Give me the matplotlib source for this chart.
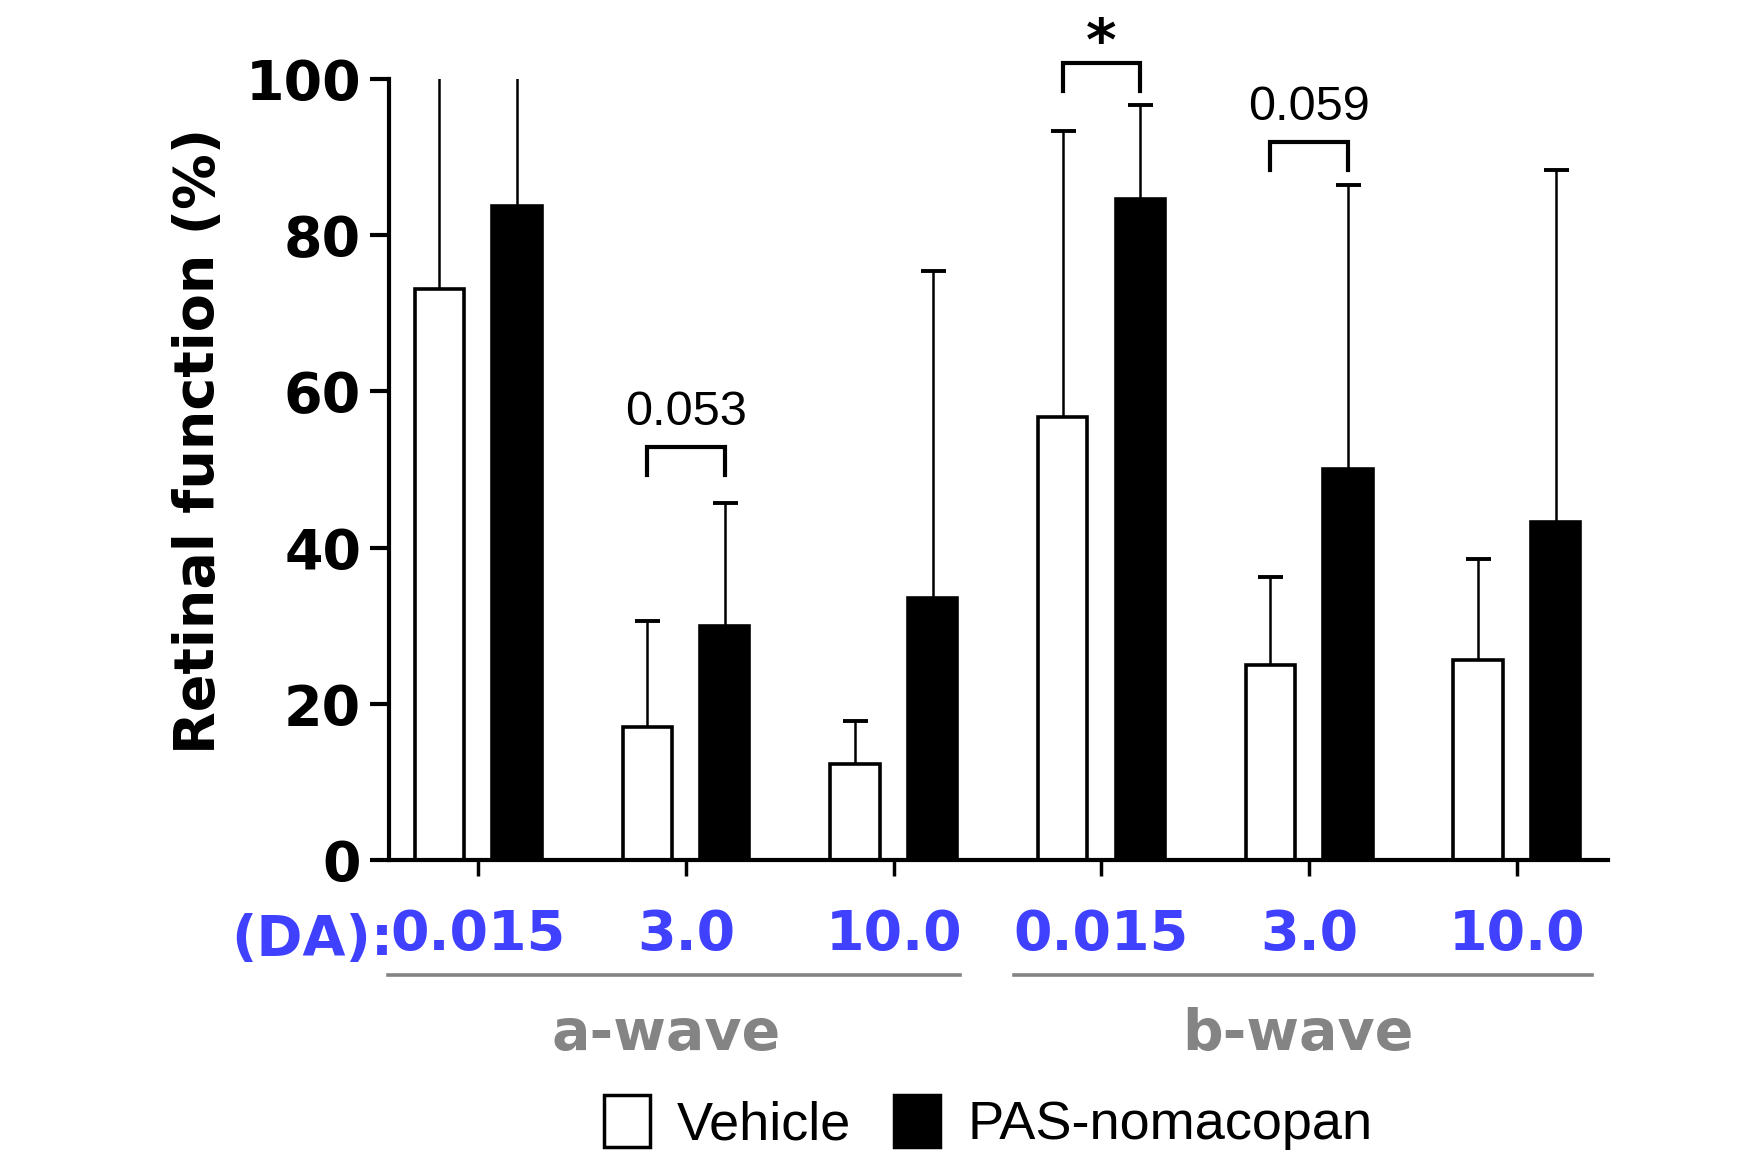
import numpy as np
import matplotlib
matplotlib.use("Agg")
import matplotlib.pyplot as plt
from matplotlib.patches import Patch

plt.rcParams['font.family'] = ['DejaVu Sans']

doses = ["0.015", "3.0", "10.0", "0.015", "3.0", "10.0"]
waves = ["a-wave", "b-wave"]

vehicle = [73.1, 17.1, 12.4, 56.7, 25.0, 25.6]
vehicle_err = [35.0, 13.5, 5.5, 36.6, 11.3, 13.0]
pas = [83.7, 30.0, 33.6, 84.6, 50.1, 43.3]
pas_err = [25.0, 15.7, 41.8, 12.0, 36.3, 45.0]

# comparisons: group index, bracket top, label
brackets = [(1, 52.9, "0.053"), (3, 102.0, "*"), (4, 91.9, "0.059")]

blue = "#4040ff"
grey = "#848484"

fig = plt.figure(figsize=(17.52, 11.55), dpi=100)
ax = fig.add_axes([0.222, 0.255, 0.696, 0.677])

x = np.arange(len(doses))
w = 0.237
off = 0.187
ekw = dict(elinewidth=1.8, capthick=2.8, ecolor="black")

b1 = ax.bar(x - off, vehicle, w, color="white", edgecolor="black", linewidth=2.6,
            yerr=[np.zeros(6), vehicle_err], capsize=9, error_kw=ekw)
b2 = ax.bar(x + off, pas, w, color="black", edgecolor="black", linewidth=2.6,
            yerr=[np.zeros(6), pas_err], capsize=9, error_kw=ekw)

# only the upper caps are shown
for cont, vals in [(b1, vehicle), (b2, pas)]:
    for cap in cont.errorbar.lines[1]:
        if np.allclose(cap.get_ydata(), vals):
            cap.set_visible(False)

ax.set_ylim(0, 100)
ax.set_xlim(-0.43, 5.44)
ax.set_yticks([0, 20, 40, 60, 80, 100])
ax.set_xticks(x)
ax.set_xticklabels(doses, color=blue, fontweight="bold", fontsize=40)
ax.tick_params(axis="y", labelsize=40, width=3, length=14, pad=6)
ax.tick_params(axis="x", width=2.5, length=11.5, pad=23)
for lab in ax.get_yticklabels():
    lab.set_fontweight("bold")
for s in ["top", "right"]:
    ax.spines[s].set_visible(False)
ax.spines["left"].set_linewidth(3)
ax.spines["bottom"].set_linewidth(3)

ax.set_ylabel("Retinal function (%)", fontsize=40, fontweight="bold")
ax.yaxis.set_label_coords(-0.134, 0.536)

# (DA): prefix to the tick labels
ax.text(-0.41, -0.102, "(DA):", transform=ax.get_xaxis_transform(), ha="right",
        va="center", color=blue, fontsize=40, fontweight="bold")

# group lines and names
xt = ax.get_xaxis_transform()
ax.plot([-0.435, 2.32], [-0.147, -0.147], color=grey, lw=2.6, transform=xt, clip_on=False)
ax.plot([2.58, 5.36], [-0.147, -0.147], color=grey, lw=2.6, transform=xt, clip_on=False)
ax.text(0.905, -0.222, waves[0], transform=xt, ha="center", va="center",
        color=grey, fontsize=41, fontweight="bold")
ax.text(3.945, -0.222, waves[1], transform=xt, ha="center", va="center",
        color=grey, fontsize=41, fontweight="bold")

# significance brackets
for g, top, txt in brackets:
    x0, x1 = g - off, g + off
    ax.plot([x0, x0, x1, x1], [top - 3.6, top, top, top - 3.6], color="black",
            lw=3, clip_on=False, solid_joinstyle="miter")
    if txt == "*":
        ax.text(g, top - 1.2, txt, ha="center", va="bottom", fontsize=42,
                fontweight="bold", clip_on=False)
    else:
        ax.text(g, top + 1.5, txt, ha="center", va="bottom", fontsize=35,
                family="Liberation Sans", clip_on=False)

handles = [Patch(facecolor="white", edgecolor="black", linewidth=2.5),
           Patch(facecolor="black", edgecolor="black", linewidth=2.5)]
fig.legend(handles, ["Vehicle", "PAS-nomacopan"], loc="center",
           bbox_to_anchor=(0.564, 0.028), ncol=2, frameon=False,
           prop={"family": "Liberation Sans", "size": 39},
           handlelength=0.85, handleheight=1.1, handletextpad=0.5,
           columnspacing=0.8, borderpad=0)

fig.savefig("out.png", dpi=100)
